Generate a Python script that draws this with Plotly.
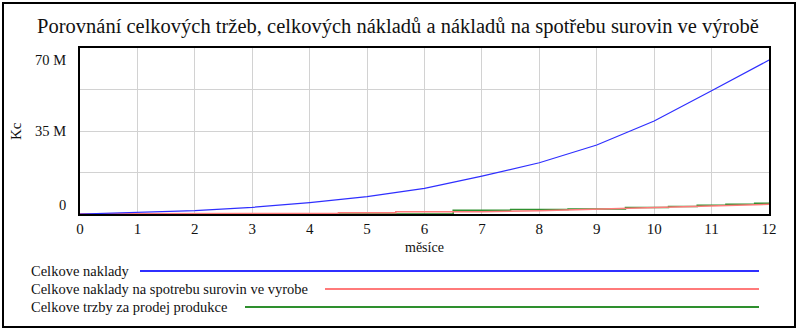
import plotly.graph_objects as go

# ---- data ----
months = [0, 1, 2, 3, 4, 5, 6, 7, 8, 9, 10, 11, 12]
celkove_naklady = [0, 0.6e6, 1.4e6, 2.8e6, 4.8e6, 7.3e6, 10.8e6, 16.0e6, 21.6e6, 29.1e6, 39.2e6, 52.0e6, 64.9e6]

red_x = [0, 4.5, 4.5, 5.5, 5.5, 7, 8, 9, 10, 11, 12]
naklady_suroviny = [0.1e6, 0.2e6, 0.55e6, 0.55e6, 0.95e6, 1.0e6, 1.4e6, 2.1e6, 2.7e6, 3.4e6, 4.1e6]

green_x = [0, 6.5, 7.5, 8.5, 9.5, 10.25, 10.75, 11.25, 11.75, 12]
trzby = [0.05e6, 1.55e6, 1.9e6, 2.15e6, 2.7e6, 3.2e6, 3.7e6, 4.1e6, 4.5e6, 4.5e6]

x_ticks = list(range(0, 13))
y_grid = [0, 17.5e6, 35e6, 52.5e6, 70e6]
y_label_vals = [0, 35e6, 70e6]
y_label_text = ["0", "35 M", "70 M"]

series_names = ["Celkove naklady",
                "Celkove naklady na spotrebu surovin ve vyrobe",
                "Celkove trzby za prodej produkce"]
colors = ["#2f2fff", "#ff7a7a", "#2e8f2e"]

title = "Porovnání celkových tržeb, celkových nákladů a nákladů na spotřebu surovin ve výrobě"

# ---- layout geometry (pixels) ----
W, H = 800, 330
L, R, T, B = 80, 769, 48, 214
PW, PH = R - L, B - T

def px(x):
    return (x - L) / PW

def py(y):
    return (B - y) / PH

FONT = "Liberation Serif"

fig = go.Figure()
fig.add_trace(go.Scatter(x=green_x, y=trzby, mode="lines", line_shape="hv",
                         line=dict(color=colors[2], width=1.5), name=series_names[2]))
fig.add_trace(go.Scatter(x=red_x, y=naklady_suroviny, mode="lines",
                         line=dict(color=colors[1], width=1.5), name=series_names[1]))
fig.add_trace(go.Scatter(x=months, y=celkove_naklady, mode="lines",
                         line=dict(color=colors[0], width=1.2), name=series_names[0]))

annotations = []
yshifts = [9, 0, -12]
for v, t, s in zip(y_label_vals, y_label_text, yshifts):
    annotations.append(dict(x=px(68), y=v, xref="paper", yref="y", text=t,
                            showarrow=False, xanchor="right", yanchor="middle",
                            yshift=s, font=dict(family=FONT, size=14.5, color="#111")))
annotations.append(dict(x=px(16), y=py(131), xref="paper", yref="paper", text="Kc",
                        textangle=-90, showarrow=False, xanchor="center", yanchor="middle",
                        font=dict(family=FONT, size=15, color="#111")))
annotations.append(dict(x=px(424), y=py(248), xref="paper", yref="paper", text="měsíce",
                        showarrow=False, xanchor="center", yanchor="middle",
                        font=dict(family=FONT, size=14, color="#111")))
leg_y = [271, 289, 307]
leg_x0 = [140, 325, 245]
shapes = []
for name, c, yy, x0 in zip(series_names, colors, leg_y, leg_x0):
    annotations.append(dict(x=px(29), y=py(yy), xref="paper", yref="paper", text=name,
                            showarrow=False, xanchor="left", yanchor="middle",
                            font=dict(family=FONT, size=14.5, color="#111")))
    shapes.append(dict(type="line", xref="paper", yref="paper",
                       x0=px(x0), x1=px(759), y0=py(yy), y1=py(yy),
                       line=dict(color=c, width=2)))
shapes.append(dict(type="rect", xref="paper", yref="paper",
                   x0=px(3), x1=px(795), y0=py(3), y1=py(327),
                   line=dict(color="black", width=2), layer="below"))

fig.update_layout(
    width=W, height=H,
    margin=dict(l=L, r=W - R, t=T, b=H - B),
    paper_bgcolor="white", plot_bgcolor="white",
    showlegend=False,
    title=dict(text=title, x=(398 - L) / PW, xref="paper", xanchor="center",
               y=1 - 26 / H, yanchor="middle", yref="container",
               font=dict(family=FONT, size=20.5, color="#111")),
    xaxis=dict(range=[0, 12], tickvals=x_ticks, showgrid=True, gridcolor="#d2d2d2",
               gridwidth=1, showline=True, linecolor="black", linewidth=2, mirror=True,
               ticks="", zeroline=False,
               tickfont=dict(family=FONT, size=15, color="#111")),
    yaxis=dict(range=[0, 70e6], tickvals=y_grid, showticklabels=False, showgrid=True,
               gridcolor="#d2d2d2", gridwidth=1, showline=True, linecolor="black",
               linewidth=2, mirror=True, ticks="", zeroline=False),
    annotations=annotations,
    shapes=shapes,
)

fig.write_html("out.html")
